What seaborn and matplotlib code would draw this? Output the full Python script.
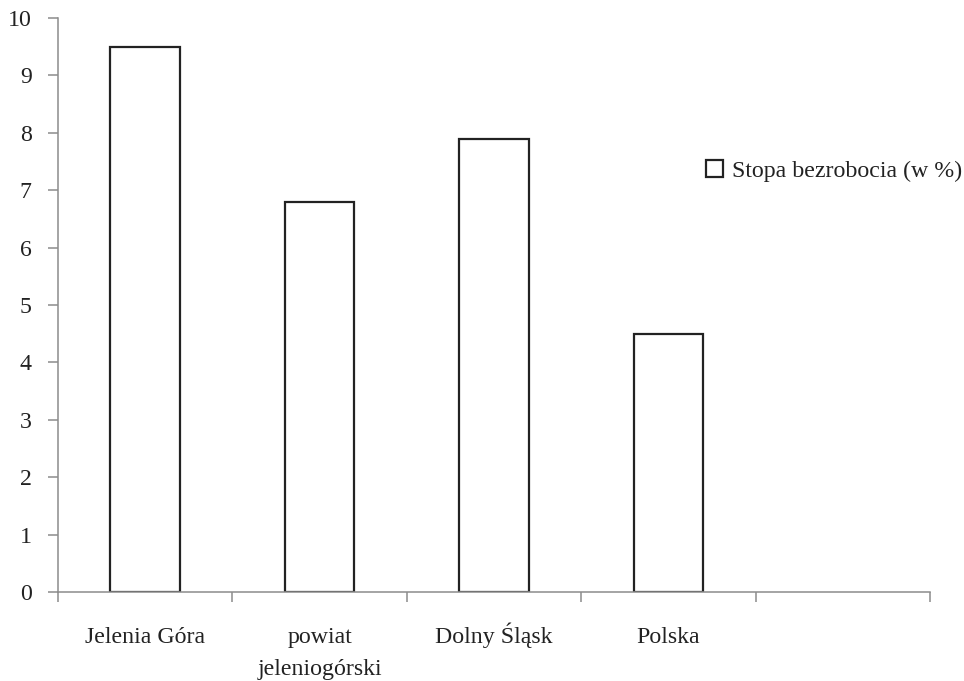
import pandas as pd
import matplotlib
matplotlib.use('Agg')
import matplotlib.pyplot as plt
import seaborn as sns
from matplotlib.patches import Patch
from matplotlib.transforms import ScaledTranslation

# chart values
categories = ['Jelenia Góra', 'powiat\njeleniogórski', 'Dolny Śląsk', 'Polska']
values = [9.5, 6.8, 7.9, 4.5]
series_name = 'Stopa bezrobocia (w %)'
y_ticks = list(range(0, 11))

data = pd.DataFrame({'region': categories, 'rate': values})

sns.set_style('white')
plt.rcParams['font.family'] = ['Liberation Serif', 'DejaVu Serif']
plt.rcParams['font.size'] = 17.2
text_col = '#222222'
axis_col = '#8c8c8c'

fig = plt.figure(figsize=(9.64, 6.81), dpi=100)
ax = fig.add_axes([0.0602, 0.1307, 0.9045, 0.8429])

sns.barplot(data=data, x='region', y='rate', order=categories, width=0.4,
            color='white', edgecolor='#222222', linewidth=1.6, ax=ax)

# Excel-like axes: 5 slots, the last one empty
ax.set_xlim(-0.5, 4.5)
ax.set_ylim(0, 10)
ax.set_yticks(y_ticks)
ax.set_xticks(range(len(categories)))
ax.set_xticklabels(categories, color=text_col, va='baseline', linespacing=1.7)
ax.set_xticks([i - 0.5 for i in range(6)], minor=True)
ax.tick_params(axis='x', which='major', length=0, pad=36.5)
ax.tick_params(axis='x', which='minor', length=7, width=1.1, color=axis_col, direction='out', bottom=True)
ax.tick_params(axis='y', length=7, width=1.1, color=axis_col, direction='out', left=True, pad=12,
               labelcolor=text_col)
ax.set_xlabel('')
ax.set_ylabel('')

# baseline alignment uses the last line, so push wrapped labels down one line
for lbl in ax.get_xticklabels():
    n_extra = lbl.get_text().count('\n')
    if n_extra:
        lbl.set_transform(lbl.get_transform() +
                          ScaledTranslation(0, -0.325 * n_extra, fig.dpi_scale_trans))

for side in ['top', 'right']:
    ax.spines[side].set_visible(False)
for side in ['left', 'bottom']:
    ax.spines[side].set_color(axis_col)
    ax.spines[side].set_linewidth(1.1)

handle = Patch(facecolor='white', edgecolor='#222222', linewidth=1.6, label=series_name)
ax.legend(handles=[handle], loc='center left', bbox_to_anchor=(0.732, 0.733), frameon=False,
          handlelength=0.7, handleheight=0.7, handletextpad=0.4, borderaxespad=0,
          labelcolor=text_col)

fig.savefig('out.png', dpi=100)
